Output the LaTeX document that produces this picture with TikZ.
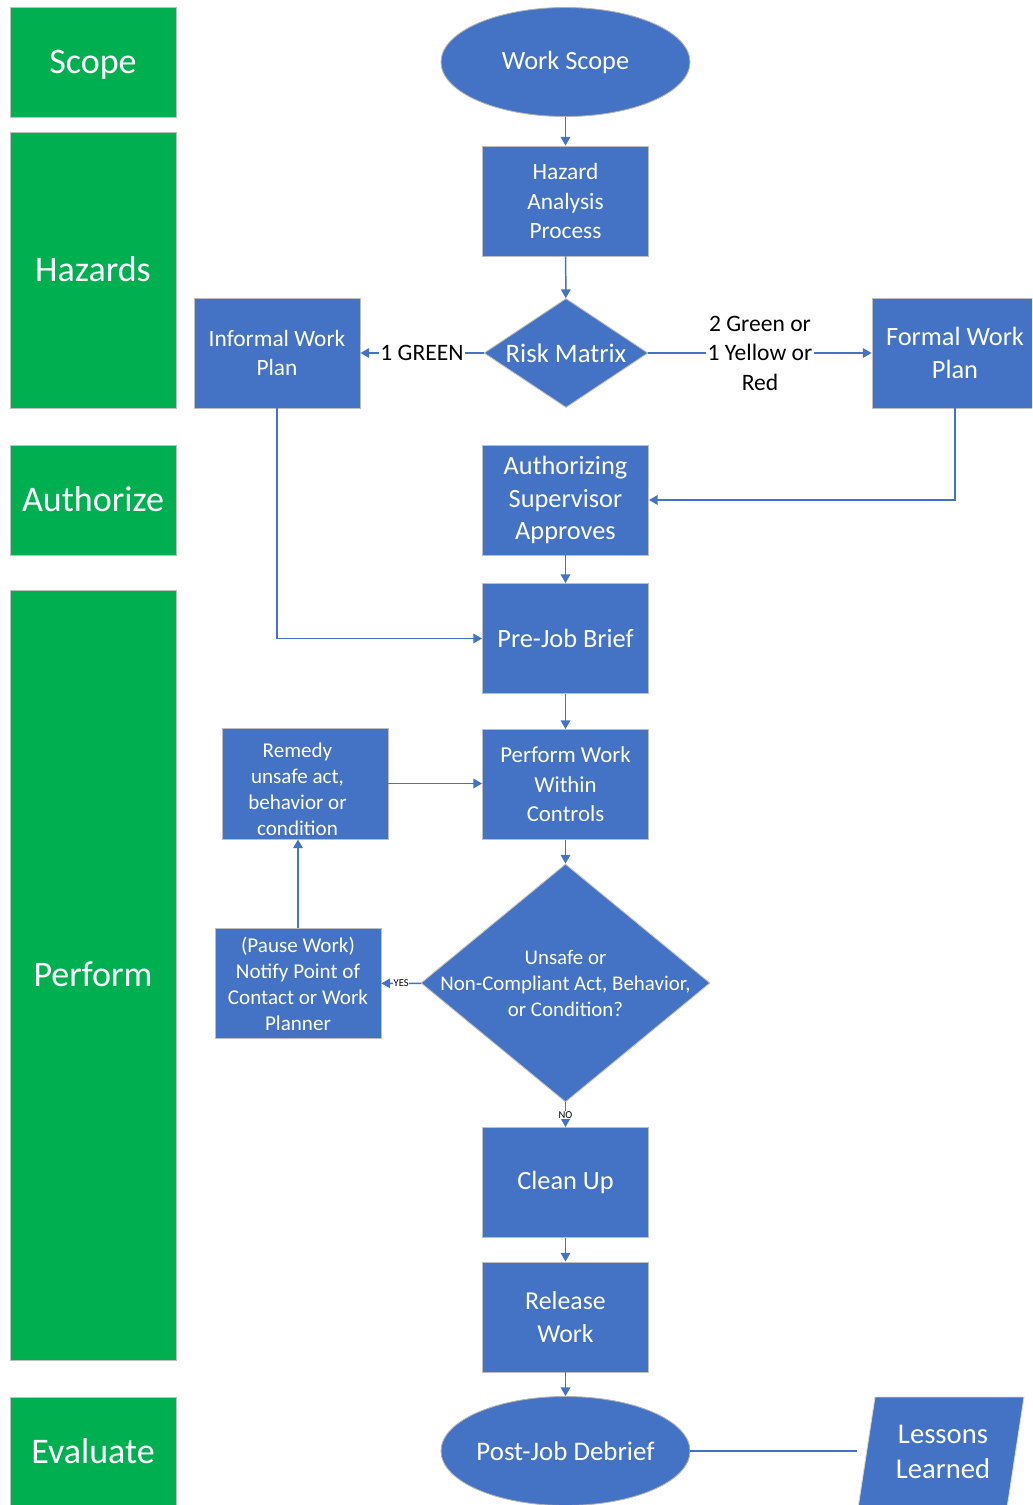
\documentclass[tikz,border=0pt]{standalone}
\usepackage{fontspec}
\setmainfont{Carlito}
\usepackage{xcolor}
\usetikzlibrary{shapes.geometric,arrows.meta}
\definecolor{wordblue}{HTML}{4472C4}
\definecolor{wordgreen}{HTML}{00B050}

\begin{document}
\begin{tikzpicture}[x=0.02cm,y=-0.02cm,
  phase/.style={rectangle,fill=wordgreen,draw=black!25,line width=0.5pt,text=white,
    minimum width=3.32cm,text height=12.7pt,text depth=0pt,font=\fontsize{20.5}{25}\selectfont},
  process/.style={rectangle,fill=wordblue,draw=black!25,line width=0.5pt,text=white,
    minimum width=3.32cm,minimum height=2.2cm,align=center,inner sep=1pt},
  terminal/.style={ellipse,fill=wordblue,draw=black!30,line width=0.5pt,inner sep=0pt,
    minimum width=4.98cm,minimum height=2.18cm},
  decision/.style={diamond,fill=wordblue,draw=black!25,line width=0.5pt,inner sep=0pt},
  inner/.style={text=white,align=center},
  flow/.style={wordblue,line width=0.85pt,-{Triangle[length=5pt,width=5.5pt]}},
  tag/.style={fill=white,text=black,inner sep=1pt,align=center,font=\fontsize{13.4}{16.8}\selectfont},
  bigtext/.style={font=\fontsize{15}{18.7}\selectfont},
  midtext/.style={font=\fontsize{13.3}{17}\selectfont},
  smalltext/.style={font=\fontsize{12}{14.8}\selectfont}]
\useasboundingbox (0,0) rectangle (1032,1505);
\clip (0,0) rectangle (1032,1505);
% Phase column on the left
\node[phase,minimum height=2.2cm] (scope) at (93,62) {Scope};
\node[phase,minimum height=5.52cm] (hazards) at (93,270) {Hazards};
\node[phase,minimum height=2.2cm] (authorizephase) at (93,500) {Authorize};
\node[phase,minimum height=15.4cm] (performphase) at (93,975) {Perform};
\node[phase,minimum height=2.2cm] (evaluate) at (93,1452) {Evaluate};
% Main flow
\node[terminal] (workscope) at (565.5,62) {};
\node[inner,bigtext] at (workscope) {Work Scope};
\node[process,midtext] (hazard) at (565.5,201) {Hazard\\Analysis\\Process};
\node[decision,minimum width=3.28cm,minimum height=2.18cm] (risk) at (566,353) {};
\node[inner,font=\fontsize{15.2}{19}\selectfont] at (risk) {Risk Matrix};
\node[process,midtext] (informal) at (277,353) {Informal Work\\Plan};
\node[process,bigtext] (formal) at (955,353) {Formal Work\\Plan};
\node[process,bigtext] (authorize) at (565.5,500) {Authorizing\\Supervisor\\Approves};
\node[process,bigtext] (prejob) at (565.5,638.5) {Pre-Job Brief};
\node[process,font=\fontsize{13}{16.8}\selectfont] (perform) at (565.5,784.5) {Perform Work\\Within\\Controls};
% Stop work loop
\node[process,minimum height=2.22cm] (remedy) at (305,783.5) {};
\node[inner,smalltext] at (297.5,789) {Remedy\\unsafe act,\\behavior or\\condition};
\node[process,smalltext] (pause) at (298,983.5) {(Pause Work)\\Notify Point of\\Contact or Work\\Planner};
\node[decision,minimum width=5.78cm,minimum height=4.76cm] (unsafe) at (565.5,983) {};
\node[inner,font=\fontsize{11.9}{14.8}\selectfont] at (unsafe) {Unsafe or\\Non-Compliant Act, Behavior,\\or Condition?};
\node[process,bigtext] (cleanup) at (565.5,1182.5) {Clean Up};
\node[process,font=\fontsize{14.7}{18.7}\selectfont] (release) at (565.5,1317) {Release\\Work};
\node[terminal] (postjob) at (565.5,1451) {};
\node[inner,font=\fontsize{15.3}{19}\selectfont] at (postjob) {Post-Job Debrief};
% Lessons learned (parallelogram)
\fill[wordblue,draw=black!15,line width=0.5pt] (875,1397) -- (1024,1397) -- (1007,1508) -- (858,1508) -- cycle;
\node[inner,font=\fontsize{16.3}{19.8}\selectfont] (lessons) at (943,1452) {Lessons\\Learned};
\coordinate (lessonsW) at (857,1451);
% Connectors
\draw[flow] (workscope) -- (hazard);
\draw[flow] (hazard) -- (risk);
\draw[flow] (risk) -- node[tag]{1 GREEN} (informal);
\draw[flow] (risk) -- node[tag]{2 Green or\\1 Yellow or\\Red} (formal);
\draw[flow] (formal) |- (authorize);
\draw[flow] (informal) |- (prejob);
\draw[flow] (authorize) -- (prejob);
\draw[flow] (prejob) -- (perform);
\draw[flow] (remedy) -- (remedy -| perform.west);
\draw[flow] (perform) -- (unsafe);
\draw[flow] (unsafe) -- node[tag,font=\fontsize{6}{7}\selectfont,inner sep=0.3pt]{YES} (pause);
\draw[flow] (pause.north) -- (pause.north |- remedy.south);
\draw[flow] (unsafe) -- node[tag,font=\fontsize{6}{7}\selectfont,inner sep=0.3pt]{NO} (cleanup);
\draw[flow] (cleanup) -- (release);
\draw[flow] (release) -- (postjob);
\draw[wordblue,line width=0.85pt] (postjob) -- (lessonsW);
\end{tikzpicture}
\end{document}
